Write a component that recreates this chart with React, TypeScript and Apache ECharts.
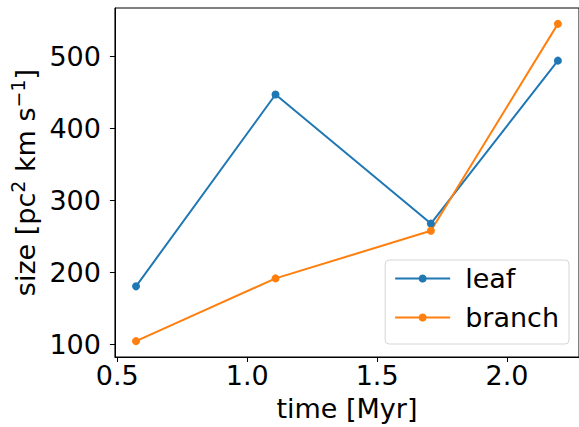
import React, { useEffect, useRef } from "react";
import * as echarts from "echarts";

const times = [0.572, 1.109, 1.707, 2.196];
const leaf = [181, 447, 268, 494];
const branch = [105, 192, 258, 545];
const xTicks = [0.5, 1.0, 1.5, 2.0];
const yTicks = [100, 200, 300, 400, 500];

const FONT = "DejaVu Sans";

export default function App() {
  const ref = useRef<HTMLDivElement>(null);
  useEffect(() => {
    if (!ref.current) return;
    const chart = echarts.init(ref.current, null, { renderer: "svg" });
    const toPairs = (ys: number[]) => times.map((t, i) => [t, ys[i]]);
    chart.setOption({
      animation: false,
      backgroundColor: "#fff",
      textStyle: { fontFamily: FONT },
      grid: {
        left: 112,
        top: 8,
        width: 470,
        height: 350,
        show: true,
        borderColor: "#000",
        borderWidth: 1,
        backgroundColor: "transparent",
      },
      xAxis: {
        type: "value",
        min: 0.4908,
        max: 2.2772,
        name: "time [Myr]",
        nameLocation: "middle",
        nameGap: 38,
        nameTextStyle: { fontFamily: FONT, fontSize: 27, color: "#000" },
        axisLine: { show: true, lineStyle: { color: "#000", width: 1 } },
        axisTick: { show: true, inside: false, length: 5, customValues: xTicks, lineStyle: { color: "#000" } },
        axisLabel: {
          customValues: xTicks,
          formatter: (v: number) => v.toFixed(1),
          fontFamily: FONT,
          fontSize: 27,
          color: "#000",
          margin: 5,
        },
        splitLine: { show: false },
      },
      yAxis: {
        type: "value",
        min: 83,
        max: 567,
        name: "{n|size [pc}{s|2}{n| km s}{s|−1}{n|]}",
        nameLocation: "middle",
        nameGap: 64,
        nameTextStyle: {
          fontFamily: FONT,
          fontSize: 27,
          color: "#000",
          rich: {
            n: { fontFamily: FONT, fontSize: 27, color: "#000", lineHeight: 34 },
            s: { fontFamily: FONT, fontSize: 19, color: "#000", verticalAlign: "top", lineHeight: 20 },
          },
        },
        axisLine: { show: true, lineStyle: { color: "#000", width: 1 } },
        axisTick: { show: true, inside: false, length: 5, customValues: yTicks, lineStyle: { color: "#000" } },
        axisLabel: {
          customValues: yTicks,
          fontFamily: FONT,
          fontSize: 27,
          color: "#000",
          margin: 14,
        },
        splitLine: { show: false },
      },
      legend: {
        orient: "vertical",
        right: 10,
        bottom: 83,
        backgroundColor: "#fff",
        borderColor: "#d6d6d6",
        borderWidth: 1,
        borderRadius: 4,
        padding: [5, 10, 13, 9],
        itemGap: 12,
        itemWidth: 55,
        itemHeight: 10,
        textStyle: { fontFamily: FONT, fontSize: 27, color: "#000", padding: [0, 0, 0, 10] },
        data: ["leaf", "branch"],
      },
      series: [
        {
          name: "leaf",
          type: "line",
          data: toPairs(leaf),
          symbol: "circle",
          symbolSize: 8,
          itemStyle: { color: "#1f77b4" },
          lineStyle: { color: "#1f77b4", width: 2 },
        },
        {
          name: "branch",
          type: "line",
          data: toPairs(branch),
          symbol: "circle",
          symbolSize: 8,
          itemStyle: { color: "#ff7f0e" },
          lineStyle: { color: "#ff7f0e", width: 2 },
        },
      ],
    });
    return () => chart.dispose();
  }, []);
  return (
    <div
      ref={ref}
      style={{ position: "absolute", left: 0, top: 0, width: 579, height: 427 }}
    />
  );
}
